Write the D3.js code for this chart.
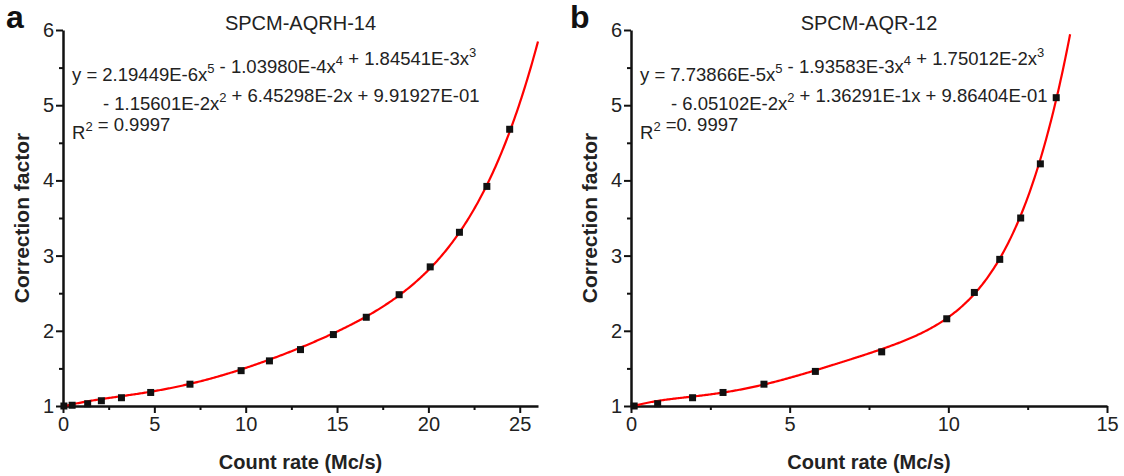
<!DOCTYPE html>
<html>
<head>
<meta charset="utf-8">
<script src="https://cdn.jsdelivr.net/npm/d3@7"></script>
<style>
  body{margin:0;background:#fff;}
  svg{display:block;font-family:"Liberation Sans",Arial,sans-serif;}
  .tick text{font-size:20px;fill:#222;font-family:"Liberation Sans",Arial,sans-serif;}
</style>
</head>
<body>
<svg id="chart" width="1124" height="476"></svg>
<script>
// panel a: SPCM-AQRH-14
const aX = [0.05, 0.5, 1.35, 2.1, 3.2, 4.8, 6.95, 9.75, 11.3, 13.0, 14.8, 16.6, 18.4, 20.1, 21.7, 23.2, 24.45];
const aY = [1.00, 1.01, 1.03, 1.07, 1.11, 1.18, 1.29, 1.47, 1.60, 1.75, 1.95, 2.18, 2.48, 2.85, 3.31, 3.92, 4.68];
const aCoef = [9.91927E-01, 6.45298E-2, -1.15601E-2, 1.84541E-3, -1.03980E-4, 2.19449E-6];
const aXTicks = [0, 5, 10, 15, 20, 25];

// panel b: SPCM-AQR-12
const bX = [0.1, 0.84, 1.94, 2.9, 4.19, 5.81, 7.9, 9.95, 10.82, 11.62, 12.28, 12.9, 13.4];
const bY = [1.00, 1.03, 1.11, 1.18, 1.29, 1.46, 1.72, 2.16, 2.51, 2.95, 3.50, 4.22, 5.10];
const bCoef = [9.86404E-01, 1.36291E-1, -6.05102E-2, 1.75012E-2, -1.93583E-3, 7.73866E-5];
const bXTicks = [0, 5, 10, 15];

const yTicks = [1, 2, 3, 4, 5, 6];

const svg = d3.select('#chart');
const poly = (c, x) => c.reduce((s, k, i) => s + k * Math.pow(x, i), 0);

function drawPanel(o){
  const top = 30, bottom = 406;
  const x = d3.scaleLinear().domain([0, o.xMax]).range([o.left, o.right]);
  const y = d3.scaleLinear().domain([1, 6]).range([bottom, top]);
  const g = svg.append('g');

  // minor ticks
  const xMinor = d3.range(0, o.xMax + 0.001, 2.5).filter(v => v % 5 !== 0);
  const yMinor = d3.range(1.5, 6, 1);
  g.append('g').attr('transform', `translate(0,${bottom})`)
    .call(d3.axisBottom(x).tickValues(xMinor).tickSize(4).tickFormat(''))
    .call(s => s.select('.domain').remove())
    .selectAll('line').attr('stroke', '#111').attr('stroke-width', 2);
  g.append('g').attr('transform', `translate(${o.left},0)`)
    .call(d3.axisLeft(y).tickValues(yMinor).tickSize(4).tickFormat(''))
    .call(s => s.select('.domain').remove())
    .selectAll('line').attr('stroke', '#111').attr('stroke-width', 2);

  // major axes
  const xa = g.append('g').attr('transform', `translate(0,${bottom})`)
    .call(d3.axisBottom(x).tickValues(o.xTicks).tickSize(7).tickSizeOuter(0).tickPadding(4).tickFormat(d3.format('d')));
  const ya = g.append('g').attr('transform', `translate(${o.left},0)`)
    .call(d3.axisLeft(y).tickValues(yTicks).tickSize(7).tickSizeOuter(0).tickPadding(2).tickFormat(d3.format('d')));
  [xa, ya].forEach(a => {
    a.select('.domain').attr('stroke', '#111').attr('stroke-width', 2.5);
    a.selectAll('.tick line').attr('stroke', '#111').attr('stroke-width', 2);
  });

  // fit curve from the printed coefficients, clipped at the top of the plot
  const xs = d3.range(0, o.xMax + 1e-9, o.xMax / 400);
  const curve = xs.map(v => [v, poly(o.coef, v)]).filter(d => d[1] <= 6.02);
  g.append('path').datum(curve)
    .attr('fill', 'none').attr('stroke', '#ff0000').attr('stroke-width', 2.2)
    .attr('d', d3.line().x(d => x(d[0])).y(d => y(d[1])));

  // data points
  g.selectAll('rect.pt').data(o.xv.map((v, i) => [v, o.yv[i]])).join('rect')
    .attr('class', 'pt')
    .attr('x', d => x(d[0]) - 3.5).attr('y', d => y(d[1]) - 3.5)
    .attr('width', 7).attr('height', 7).attr('fill', '#111');

  // titles
  const cx = (o.left + o.right) / 2;
  g.append('text').attr('x', cx).attr('y', 30).attr('text-anchor', 'middle')
    .attr('font-size', 20).attr('fill', '#222').text(o.title);
  g.append('text').attr('x', o.letterX).attr('y', 28).attr('font-size', 32)
    .attr('font-weight', 'bold').attr('fill', '#111').text(o.letter);
  g.append('text').attr('x', cx).attr('y', 469).attr('text-anchor', 'middle')
    .attr('font-size', 20).attr('font-weight', 'bold').attr('fill', '#222').text('Count rate (Mc/s)');
  g.append('text').attr('transform', `translate(${o.left - 34},${(top + bottom) / 2}) rotate(-90)`)
    .attr('text-anchor', 'middle').attr('font-size', 21).attr('font-weight', 'bold')
    .attr('fill', '#222').text('Correction factor');

  // equation
  const eq = g.append('g').attr('font-size', 18.5).attr('fill', '#222');
  o.eq.forEach((line, i) => {
    const t = eq.append('text').attr('x', o.left + 9 + (i === 1 ? o.indent : 0)).attr('y', 81 + i * 29);
    line.forEach(seg => {
      if (typeof seg === 'string') t.append('tspan').text(seg);
      else {
        t.append('tspan').attr('font-size', 13).attr('dy', -8).text(seg.sup);
        t.append('tspan').attr('dy', 8).text('');
      }
    });
  });
}

drawPanel({
  left: 63, right: 538, xMax: 26, xTicks: aXTicks, xv: aX, yv: aY, coef: aCoef,
  title: 'SPCM-AQRH-14', letter: 'a', letterX: 6, indent: 31,
  eq: [
    ['y = 2.19449E-6x', {sup: '5'}, ' - 1.03980E-4x', {sup: '4'}, ' + 1.84541E-3x', {sup: '3'}],
    ['- 1.15601E-2x', {sup: '2'}, ' + 6.45298E-2x + 9.91927E-01'],
    ['R', {sup: '2'}, ' = 0.9997']
  ]
});
drawPanel({
  left: 631, right: 1107, xMax: 15, xTicks: bXTicks, xv: bX, yv: bY, coef: bCoef,
  title: 'SPCM-AQR-12', letter: 'b', letterX: 570, indent: 31,
  eq: [
    ['y = 7.73866E-5x', {sup: '5'}, ' - 1.93583E-3x', {sup: '4'}, ' + 1.75012E-2x', {sup: '3'}],
    ['- 6.05102E-2x', {sup: '2'}, ' + 1.36291E-1x + 9.86404E-01'],
    ['R', {sup: '2'}, ' =0. 9997']
  ]
});
</script>
</body>
</html>
